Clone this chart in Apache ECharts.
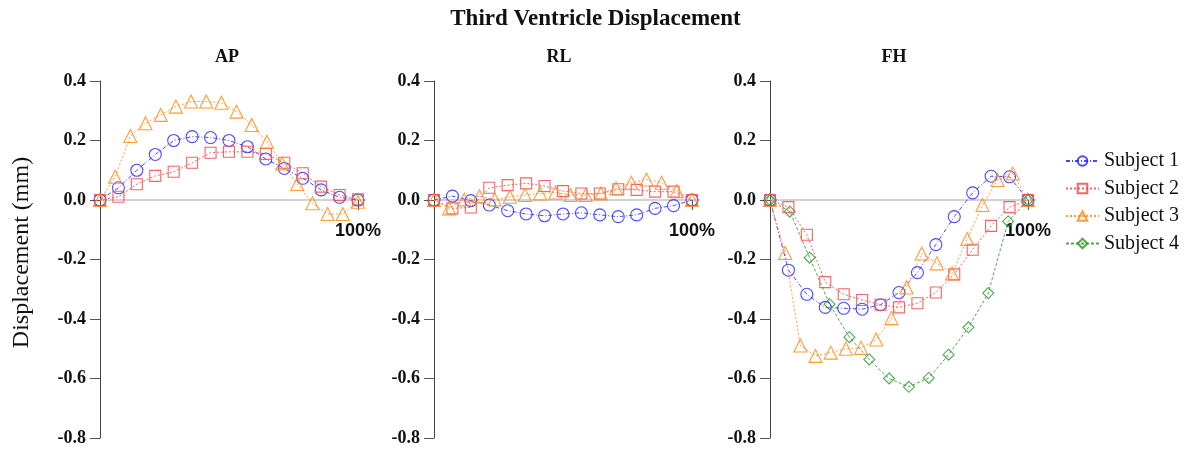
<!DOCTYPE html>
<html>
<head>
<meta charset="utf-8">
<script src="https://cdn.jsdelivr.net/npm/echarts@6/dist/echarts.min.js"></script>
<style>
  html, body { margin: 0; padding: 0; background: #fff; }
  #chart { width: 1191px; height: 452px; }
</style>
</head>
<body>
<div id="chart"></div>
<script>
// Panels and series
const panels = ['AP', 'RL', 'FH'];
const subjects = ['Subject 1', 'Subject 2', 'Subject 3', 'Subject 4'];
const yTicks = [-0.8, -0.6, -0.4, -0.2, 0.0, 0.2, 0.4];

// Displacement (mm) sampled evenly over 0–100 % of the cycle
const apSubject1 = [0, 0.041, 0.100, 0.153, 0.200, 0.213, 0.210, 0.200, 0.179, 0.138, 0.106, 0.073, 0.034, 0.009, 0];
const apSubject2 = [0, 0.011, 0.053, 0.081, 0.095, 0.125, 0.159, 0.162, 0.162, 0.155, 0.125, 0.090, 0.045, 0.017, 0.002];
const apSubject3 = [0, 0.078, 0.215, 0.258, 0.286, 0.314, 0.331, 0.331, 0.327, 0.297, 0.252, 0.196, 0.123, 0.054, -0.011, -0.047, -0.047, -0.006];

const rlSubject1 = [0, 0.013, -0.002, -0.017, -0.036, -0.047, -0.053, -0.047, -0.043, -0.050, -0.056, -0.050, -0.028, -0.019, 0];
const rlSubject2 = [0, -0.028, -0.025, 0.041, 0.050, 0.056, 0.047, 0.030, 0.022, 0.022, 0.036, 0.034, 0.028, 0.028, 0];
const rlSubject3 = [0, -0.028, 0.002, 0.013, 0.002, 0.011, 0.017, 0.022, 0.025, 0.017, 0.017, 0.022, 0.039, 0.058, 0.069, 0.058, 0.030, 0];

const fhSubject1 = [0, -0.236, -0.317, -0.361, -0.364, -0.367, -0.352, -0.311, -0.244, -0.150, -0.056, 0.024, 0.080, 0.078, 0];
const fhSubject2 = [0, -0.024, -0.117, -0.276, -0.317, -0.336, -0.352, -0.361, -0.347, -0.311, -0.250, -0.167, -0.087, -0.024, 0];
const fhSubject3 = [0, -0.178, -0.489, -0.524, -0.513, -0.500, -0.497, -0.469, -0.397, -0.294, -0.180, -0.213, -0.247, -0.131, -0.017, 0.067, 0.089, 0];
const fhSubject4 = [0, -0.039, -0.194, -0.350, -0.461, -0.536, -0.600, -0.628, -0.598, -0.520, -0.428, -0.313, -0.072, 0];

const panelData = [
  [apSubject1, apSubject2, apSubject3, null],
  [rlSubject1, rlSubject2, rlSubject3, null],
  [fhSubject1, fhSubject2, fhSubject3, fhSubject4]
];

const SERIF = '"Liberation Serif", "Times New Roman", serif';
const SANS = '"Liberation Sans", Arial, sans-serif';

const styles = [
  { color: '#2a2aff', symbol: 'circle',   size: 12, dash: [4, 2, 1, 2] },
  { color: '#f24a4a', symbol: 'rect',     size: 11, dash: [2, 2] },
  { color: '#ff8c1a', symbol: 'triangle', size: 13, dash: [2, 2] },
  { color: '#2f9a2f', symbol: 'diamond',  size: 11, dash: [3, 2] }
];

// Pair each value with its position along the cycle (percent)
function toPoints(values) {
  const n = values.length;
  return values.map((v, i) => [i * 100 / (n - 1), v]);
}

const gridLefts = [100, 434, 770];
const gridWidth = 265.7;
const gridHeight = 357;
const grids = gridLefts.map(left => ({
  left: left, top: 81, width: gridWidth, height: gridHeight,
  outerBoundsMode: 'none', containLabel: false
}));

// Lift the x axis from the bottom edge up to the zero line
const yMin = yTicks[0];
const yMax = yTicks[yTicks.length - 1];
const zeroOffset = -gridHeight * (0 - yMin) / (yMax - yMin);

const xAxes = gridLefts.map((_, i) => ({
  gridIndex: i,
  type: 'value',
  min: 0,
  max: 103,
  position: 'bottom',
  offset: zeroOffset,
  axisLine: { onZero: false, lineStyle: { color: '#c4c4c4', width: 1.5 } },
  axisTick: { show: true, customValues: [100], length: 10, lineStyle: { color: '#555', width: 1 } },
  axisLabel: {
    show: true, customValues: [100], margin: 22,
    formatter: v => v + '%',
    fontFamily: SANS, fontWeight: 'bold', fontSize: 18, color: '#111'
  },
  splitLine: { show: false }
}));

const yAxes = gridLefts.map((_, i) => ({
  gridIndex: i,
  type: 'value',
  min: yMin,
  max: yMax,
  interval: 0.2,
  name: i === 0 ? 'Displacement (mm)' : '',
  nameLocation: 'middle',
  nameGap: 66,
  nameRotate: 90,
  nameTextStyle: { fontFamily: SERIF, fontSize: 24, color: '#111', padding: [0, 0, 0, 14] },
  axisLine: { show: true, onZero: false, lineStyle: { color: '#444', width: 1 } },
  axisTick: { show: true, length: 10, lineStyle: { color: '#555', width: 1 } },
  axisLabel: {
    margin: 14,
    formatter: v => v.toFixed(1),
    fontFamily: SERIF, fontWeight: 'bold', fontSize: 18, color: '#111'
  },
  splitLine: { show: false }
}));

const series = [];
panelData.forEach((sets, p) => {
  sets.forEach((values, s) => {
    if (!values) return;
    const st = styles[s];
    series.push({
      name: subjects[s],
      type: 'line',
      xAxisIndex: p,
      yAxisIndex: p,
      data: toPoints(values),
      symbol: st.symbol,
      symbolSize: st.size,
      showAllSymbol: true,
      lineStyle: { color: st.color, width: 1, type: st.dash, opacity: 0.85 },
      itemStyle: { color: 'rgba(255,255,255,0)', borderColor: st.color, borderWidth: 1.1, opacity: 0.85 },
      emphasis: { disabled: true },
      animation: false
    });
  });
});

const titleCenters = [222, 554, 889];

const option = {
  backgroundColor: '#ffffff',
  animation: false,
  title: [
    {
      text: 'Third Ventricle Displacement',
      left: 'center', top: 3,
      textStyle: { fontFamily: SERIF, fontWeight: 'bold', fontSize: 23, color: '#111' }
    }
  ].concat(panels.map((name, i) => ({
    text: name,
    left: titleCenters[i], top: 43,
    textAlign: 'center',
    textStyle: { fontFamily: SERIF, fontWeight: 'bold', fontSize: 18, color: '#111' }
  }))),
  legend: {
    data: subjects,
    orient: 'vertical',
    left: 1060,
    top: 146,
    itemWidth: 33,
    itemHeight: 12,
    itemGap: 7.5,
    textStyle: { fontFamily: SERIF, fontSize: 20, color: '#111', lineHeight: 20 }
  },
  grid: grids,
  xAxis: xAxes,
  yAxis: yAxes,
  series: series
};

const chart = echarts.init(document.getElementById('chart'), null, { renderer: 'canvas' });
chart.setOption(option);
</script>
</body>
</html>
